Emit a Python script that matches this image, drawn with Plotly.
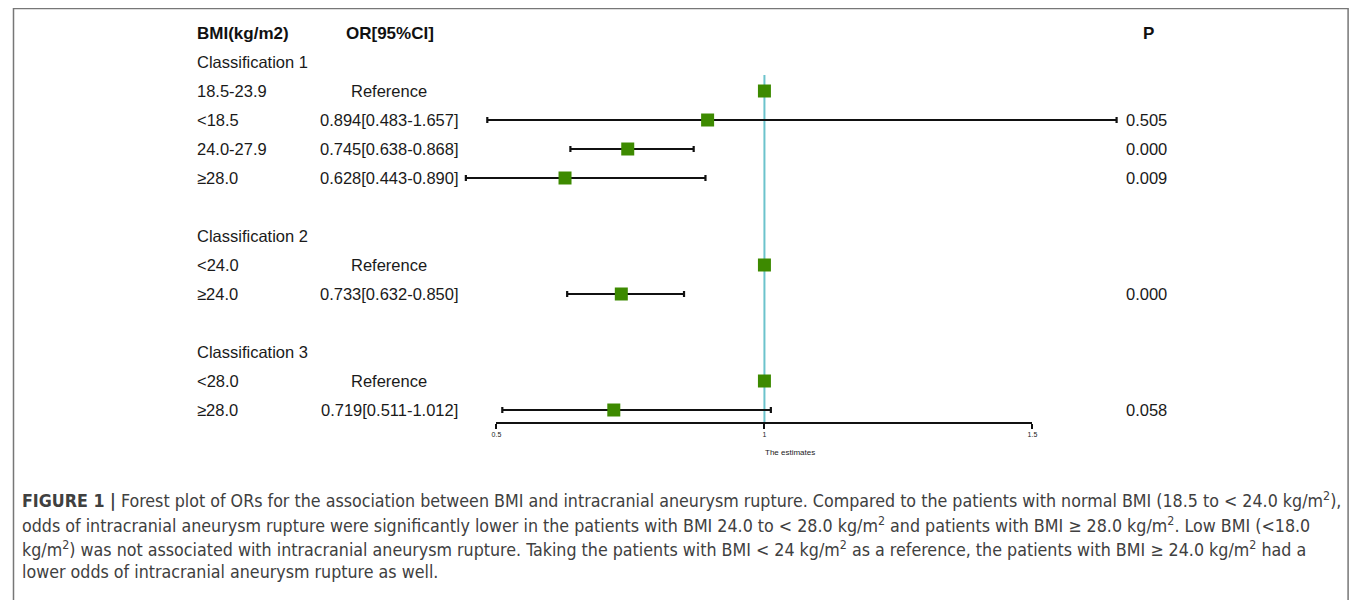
import plotly.graph_objects as go

# ---------------- data ----------------
rows = [1, 2, 3, 4, 5, 7, 8, 9, 11, 12, 13]
labels = ["Classification 1", "18.5-23.9", "&lt;18.5", "24.0-27.9", "≥28.0",
          "Classification 2", "&lt;24.0", "≥24.0",
          "Classification 3", "&lt;28.0", "≥28.0"]
or_text = ["", "Reference", "0.894[0.483-1.657]", "0.745[0.638-0.868]", "0.628[0.443-0.890]",
           "", "Reference", "0.733[0.632-0.850]",
           "", "Reference", "0.719[0.511-1.012]"]
or_vals = [None, 1.0, 0.894, 0.745, 0.628, None, 1.0, 0.733, None, 1.0, 0.719]
ci_low = [None, 1.0, 0.483, 0.638, 0.443, None, 1.0, 0.632, None, 1.0, 0.511]
ci_high = [None, 1.0, 1.657, 0.868, 0.890, None, 1.0, 0.850, None, 1.0, 1.012]
p_text = ["", "", "0.505", "0.000", "0.009", "", "", "0.000", "", "", "0.058"]
headers = ["BMI(kg/m2)", "OR[95%CI]", "P"]
axis_ticks = [0.5, 1, 1.5]
axis_ticklabels = ["0.5", "1", "1.5"]
axis_title = "The estimates"
caption_lines = [
    "<b>FIGURE 1 |</b> Forest plot of ORs for the association between BMI and intracranial aneurysm rupture. Compared to the patients with normal BMI (18.5 to &lt; 24.0 kg/m<sup>2</sup>),",
    "odds of intracranial aneurysm rupture were significantly lower in the patients with BMI 24.0 to &lt; 28.0 kg/m<sup>2</sup> and patients with BMI ≥ 28.0 kg/m<sup>2</sup>. Low BMI (&lt;18.0",
    "kg/m<sup>2</sup>) was not associated with intracranial aneurysm rupture. Taking the patients with BMI &lt; 24 kg/m<sup>2</sup> as a reference, the patients with BMI ≥ 24.0 kg/m<sup>2</sup> had a",
    "lower odds of intracranial aneurysm rupture as well.",
]

# ---------------- geometry ----------------
W, H = 1358, 600
OFF = 8.0            # page body margin
PX_PER_UNIT = 540.0
X_AT_ONE = 765.0
ROW0_PX, ROW_STEP = 33.0, 29.0
x_r0 = 1.0 - (X_AT_ONE - OFF) / PX_PER_UNIT
x_r1 = x_r0 + W / PX_PER_UNIT
y_top = -(ROW0_PX - OFF) / ROW_STEP
y_bot = (H - (ROW0_PX - OFF)) / ROW_STEP
LPAD = 5.0           # annotation left padding compensation


def xp(px):
    return (px - OFF) / W


def yp(py):
    return 1 - (py - OFF) / H


TXT_FONT = dict(family="Liberation Sans, Arial, sans-serif", size=16.5, color="#1a1a1a")
HDR_FONT = dict(family="Liberation Sans, Arial, sans-serif", size=17, color="#111111")
CAP_FONT = dict(family="DejaVu Sans Condensed, Liberation Sans Narrow, Arial Narrow, sans-serif",
                size=17.7, color="#404040")
GREEN = "#3d8a00"

fig = go.Figure()

# reference line at OR = 1
fig.add_shape(type="line", xref="x", yref="y", x0=1, x1=1, y0=1.45, y1=13.45,
              line=dict(color="#6cc3cc", width=2), layer="below")

# CI bars
px_rows = [r for r, v in zip(rows, or_vals) if v is not None]
px_vals = [v for v in or_vals if v is not None]
plus = [h - v for h, v in zip(ci_high, or_vals) if v is not None]
minus = [v - l for l, v in zip(ci_low, or_vals) if v is not None]
has_ci = [p > 0 for p in plus]

fig.add_trace(go.Scatter(
    x=[v for v, c in zip(px_vals, has_ci) if c],
    y=[r for r, c in zip(px_rows, has_ci) if c],
    mode="markers", marker=dict(size=1, color="rgba(0,0,0,0)"),
    error_x=dict(type="data", symmetric=False,
                 array=[p for p, c in zip(plus, has_ci) if c],
                 arrayminus=[m for m, c in zip(minus, has_ci) if c],
                 color="#111111", thickness=2.2, width=3),
    hoverinfo="skip", showlegend=False, xaxis="x", yaxis="y"))

# estimate squares
fig.add_trace(go.Scatter(
    x=px_vals, y=px_rows, mode="markers",
    marker=dict(symbol="square", size=13, color=GREEN, line=dict(width=0)),
    hoverinfo="skip", showlegend=False, xaxis="x", yaxis="y"))

# dummy trace for the estimate axis
fig.add_trace(go.Scatter(x=[0.5, 1.5], y=[-50, -50], mode="markers",
                         marker=dict(opacity=0), hoverinfo="skip", showlegend=False,
                         xaxis="x2", yaxis="y"))

# text columns
ann = []
ann.append(dict(x=xp(196 - LPAD), y=0, xref="paper", yref="y", text="<b>" + headers[0] + "</b>",
                xanchor="left", yanchor="middle", showarrow=False, font=HDR_FONT))
ann.append(dict(x=xp(388), y=0, xref="paper", yref="y", text="<b>" + headers[1] + "</b>",
                xanchor="center", yanchor="middle", showarrow=False, font=HDR_FONT))
ann.append(dict(x=xp(1152), y=0, xref="paper", yref="y", text="<b>" + headers[2] + "</b>",
                xanchor="center", yanchor="middle", showarrow=False, font=HDR_FONT))
for r, lab, ot, pt in zip(rows, labels, or_text, p_text):
    ann.append(dict(x=xp(196 - LPAD), y=r, xref="paper", yref="y", text=lab, xanchor="left",
                    yanchor="middle", showarrow=False, font=TXT_FONT))
    if ot:
        ann.append(dict(x=xp(387), y=r, xref="paper", yref="y", text=ot, xanchor="center",
                        yanchor="middle", showarrow=False, font=TXT_FONT))
    if pt:
        ann.append(dict(x=xp(1150), y=r, xref="paper", yref="y", text=pt, xanchor="center",
                        yanchor="middle", showarrow=False, font=TXT_FONT))

ann.append(dict(x=xp(791), y=yp(452), xref="paper", yref="paper", text=axis_title,
                xanchor="center", yanchor="middle", showarrow=False,
                font=dict(family="Liberation Sans, Arial, sans-serif", size=8, color="#222")))

for i, line in enumerate(caption_lines):
    ann.append(dict(x=xp(22 - LPAD - 2), y=yp(500 + 24 * i), xref="paper", yref="paper", text=line,
                    xanchor="left", yanchor="middle", showarrow=False, font=CAP_FONT))

# outer frame
fig.add_shape(type="rect", xref="paper", yref="paper", x0=xp(8.5), x1=xp(1353),
              y0=-0.05, y1=yp(8.5), line=dict(color="#777777", width=1.5))

fig.update_layout(
    width=W, height=H, margin=dict(l=0, r=0, t=0, b=0),
    paper_bgcolor="white", plot_bgcolor="rgba(0,0,0,0)",
    xaxis=dict(domain=[0, 1], range=[x_r0, x_r1], visible=False, fixedrange=True),
    xaxis2=dict(domain=[xp(495), xp(1035)], range=[0.5, 1.5], anchor="free",
                position=yp(423), side="bottom", showline=True, linecolor="#111111",
                linewidth=2, ticks="outside", ticklen=5, tickwidth=2, tickcolor="#111111",
                tickvals=axis_ticks, ticktext=axis_ticklabels, showgrid=False,
                zeroline=False, tickfont=dict(family="Liberation Sans, Arial, sans-serif",
                                              size=7, color="#222")),
    yaxis=dict(domain=[0, 1], range=[y_bot, y_top], visible=False, fixedrange=True),
    annotations=ann,
)

fig.write_html("out.html")
